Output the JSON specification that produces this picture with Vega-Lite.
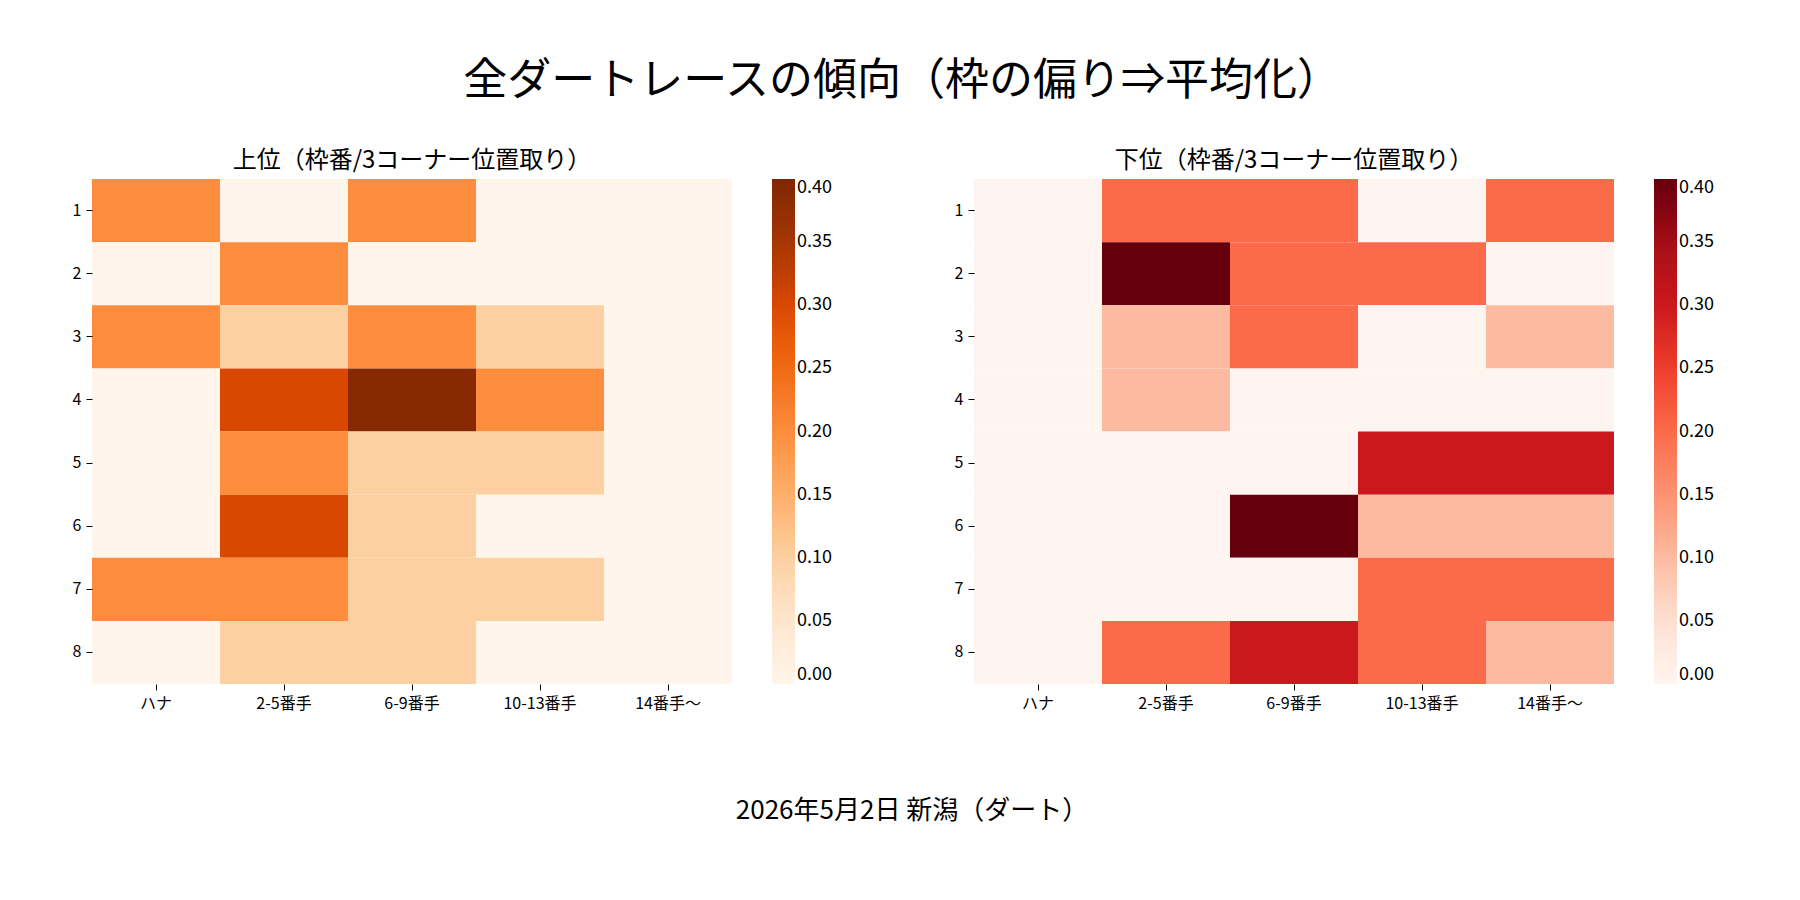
{
  "$schema": "https://vega.github.io/schema/vega-lite/v6.json",
  "padding": {"left": 72, "top": 60, "right": 20, "bottom": 10},
  "config": {
    "font": "Noto Sans CJK JP",
    "view": {"stroke": null},
    "axis": {"labelFont": "Noto Sans CJK JP", "labelFontSize": 16, "labelColor": "black", "tickColor": "black", "domain": false, "grid": false, "title": null, "tickSize": 6, "labelPadding": 5},
    "legend": {"labelFont": "Noto Sans CJK JP", "labelFontSize": 18, "labelColor": "black"},
    "title": {"font": "Noto Sans CJK JP", "color": "black", "fontWeight": "normal"}
  },
  "title": {"text": "全ダートレースの傾向（枠の偏り⇒平均化）", "fontSize": 44, "offset": 45, "anchor": "middle"},
  "datasets": {
    "upper": [
      {"r":1,"c":"ハナ","v":0.2},{"r":1,"c":"2-5番手","v":0},{"r":1,"c":"6-9番手","v":0.2},{"r":1,"c":"10-13番手","v":0},{"r":1,"c":"14番手～","v":0},
      {"r":2,"c":"ハナ","v":0},{"r":2,"c":"2-5番手","v":0.2},{"r":2,"c":"6-9番手","v":0},{"r":2,"c":"10-13番手","v":0},{"r":2,"c":"14番手～","v":0},
      {"r":3,"c":"ハナ","v":0.2},{"r":3,"c":"2-5番手","v":0.1},{"r":3,"c":"6-9番手","v":0.2},{"r":3,"c":"10-13番手","v":0.1},{"r":3,"c":"14番手～","v":0},
      {"r":4,"c":"ハナ","v":0},{"r":4,"c":"2-5番手","v":0.3},{"r":4,"c":"6-9番手","v":0.39},{"r":4,"c":"10-13番手","v":0.2},{"r":4,"c":"14番手～","v":0},
      {"r":5,"c":"ハナ","v":0},{"r":5,"c":"2-5番手","v":0.2},{"r":5,"c":"6-9番手","v":0.1},{"r":5,"c":"10-13番手","v":0.1},{"r":5,"c":"14番手～","v":0},
      {"r":6,"c":"ハナ","v":0},{"r":6,"c":"2-5番手","v":0.3},{"r":6,"c":"6-9番手","v":0.1},{"r":6,"c":"10-13番手","v":0},{"r":6,"c":"14番手～","v":0},
      {"r":7,"c":"ハナ","v":0.2},{"r":7,"c":"2-5番手","v":0.2},{"r":7,"c":"6-9番手","v":0.1},{"r":7,"c":"10-13番手","v":0.1},{"r":7,"c":"14番手～","v":0},
      {"r":8,"c":"ハナ","v":0},{"r":8,"c":"2-5番手","v":0.1},{"r":8,"c":"6-9番手","v":0.1},{"r":8,"c":"10-13番手","v":0},{"r":8,"c":"14番手～","v":0}
    ],
    "lower": [
      {"r":1,"c":"ハナ","v":0},{"r":1,"c":"2-5番手","v":0.2},{"r":1,"c":"6-9番手","v":0.2},{"r":1,"c":"10-13番手","v":0},{"r":1,"c":"14番手～","v":0.2},
      {"r":2,"c":"ハナ","v":0},{"r":2,"c":"2-5番手","v":0.4},{"r":2,"c":"6-9番手","v":0.2},{"r":2,"c":"10-13番手","v":0.2},{"r":2,"c":"14番手～","v":0},
      {"r":3,"c":"ハナ","v":0},{"r":3,"c":"2-5番手","v":0.1},{"r":3,"c":"6-9番手","v":0.2},{"r":3,"c":"10-13番手","v":0},{"r":3,"c":"14番手～","v":0.1},
      {"r":4,"c":"ハナ","v":0},{"r":4,"c":"2-5番手","v":0.1},{"r":4,"c":"6-9番手","v":0},{"r":4,"c":"10-13番手","v":0},{"r":4,"c":"14番手～","v":0},
      {"r":5,"c":"ハナ","v":0},{"r":5,"c":"2-5番手","v":0},{"r":5,"c":"6-9番手","v":0},{"r":5,"c":"10-13番手","v":0.3},{"r":5,"c":"14番手～","v":0.3},
      {"r":6,"c":"ハナ","v":0},{"r":6,"c":"2-5番手","v":0},{"r":6,"c":"6-9番手","v":0.4},{"r":6,"c":"10-13番手","v":0.1},{"r":6,"c":"14番手～","v":0.1},
      {"r":7,"c":"ハナ","v":0},{"r":7,"c":"2-5番手","v":0},{"r":7,"c":"6-9番手","v":0},{"r":7,"c":"10-13番手","v":0.2},{"r":7,"c":"14番手～","v":0.2},
      {"r":8,"c":"ハナ","v":0},{"r":8,"c":"2-5番手","v":0.2},{"r":8,"c":"6-9番手","v":0.3},{"r":8,"c":"10-13番手","v":0.2},{"r":8,"c":"14番手～","v":0.1}
    ],
    "foot": [{"t": "2026年5月2日 新潟（ダート）"}]
  },
  "vconcat": [
    {
      "hconcat": [
        {
          "data": {"name": "upper"},
          "title": {"text": "上位（枠番/3コーナー位置取り）", "fontSize": 24, "offset": 6},
          "width": 640, "height": 505,
          "mark": {"type": "rect"},
          "encoding": {
            "x": {"field": "c", "type": "ordinal", "sort": ["ハナ","2-5番手","6-9番手","10-13番手","14番手～"], "scale": {"paddingInner": 0, "paddingOuter": 0}, "axis": {"labelAngle": 0}},
            "y": {"field": "r", "type": "ordinal", "scale": {"paddingInner": 0, "paddingOuter": 0}},
            "color": {"field": "v", "type": "quantitative", "scale": {"domain": [0, 0.4], "range": ["#fff5eb","#fee6ce","#fdd0a2","#fdae6b","#fd8d3c","#f16913","#d94801","#a63603","#7f2704"]}, "legend": {"title": null, "gradientLength": 505, "gradientThickness": 23, "values": [0,0.05,0.1,0.15,0.2,0.25,0.3,0.35,0.4], "format": ".2f", "offset": 40}}
          }
        },
        {
          "data": {"name": "lower"},
          "title": {"text": "下位（枠番/3コーナー位置取り）", "fontSize": 24, "offset": 6},
          "width": 640, "height": 505,
          "mark": {"type": "rect"},
          "encoding": {
            "x": {"field": "c", "type": "ordinal", "sort": ["ハナ","2-5番手","6-9番手","10-13番手","14番手～"], "scale": {"paddingInner": 0, "paddingOuter": 0}, "axis": {"labelAngle": 0}},
            "y": {"field": "r", "type": "ordinal", "scale": {"paddingInner": 0, "paddingOuter": 0}},
            "color": {"field": "v", "type": "quantitative", "scale": {"domain": [0, 0.4], "range": ["#fff5f0","#fee0d2","#fcbba1","#fc9272","#fb6a4a","#ef3b2c","#cb181d","#a50f15","#67000d"]}, "legend": {"title": null, "gradientLength": 505, "gradientThickness": 23, "values": [0,0.05,0.1,0.15,0.2,0.25,0.3,0.35,0.4], "format": ".2f", "offset": 40}}
          }
        }
      ],
      "spacing": 122,
      "resolve": {"scale": {"color": "independent"}, "legend": {"color": "independent"}}
    },
    {
      "data": {"name": "foot"},
      "width": 1640, "height": 40,
      "mark": {"type": "text", "fontSize": 26, "font": "Noto Sans CJK JP", "color": "black"},
      "encoding": {"text": {"field": "t"}}
    }
  ],
  "spacing": 80
}
